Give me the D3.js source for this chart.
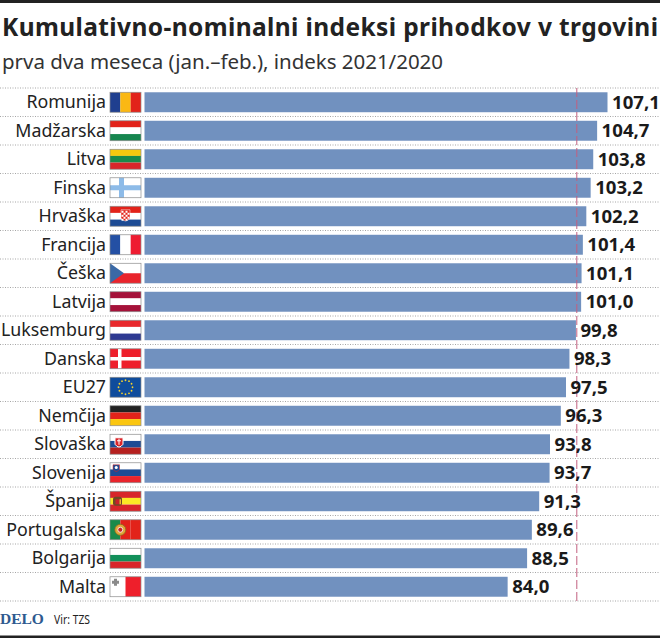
<!DOCTYPE html>
<html>
<head>
<meta charset="utf-8">
<script src="https://cdn.jsdelivr.net/npm/d3@7"></script>
<style>
	html, body { margin: 0; padding: 0; background: #fff; }
	svg { display: block; }
	text { font-family: "Noto Sans", sans-serif; fill: #222; }
</style>
</head>
<body>
<div id="chart"></div>
<script>
const countries = ["Romunija", "Madžarska", "Litva", "Finska", "Hrvaška", "Francija", "Češka", "Latvija", "Luksemburg",
				   "Danska", "EU27", "Nemčija", "Slovaška", "Slovenija", "Španija", "Portugalska", "Bolgarija", "Malta"];
const values = [107.1, 104.7, 103.8, 103.2, 102.2, 101.4, 101.1, 101.0, 99.8,
				98.3, 97.5, 96.3, 93.8, 93.7, 91.3, 89.6, 88.5, 84.0];
const referenceValue = 100;

// stripe colours of each flag, "v" = vertical stripes
const flagDirs = ["v", "h", "h", "h", "h", "v", "h", "h", "h", "h", "h", "h", "h", "h", "h", "v", "h", "v"];
const flagStripes = [
	["#1f3f8f", "#fbb813", "#e2231a"],
	["#e2231a", "#ffffff", "#16864f"],
	["#f6c90e", "#1a8a4a", "#d9252a"],
	["#ffffff"],
	["#e2231a", "#ffffff", "#1d4b94"],
	["#2450a4", "#ffffff", "#ee1c31"],
	["#ffffff", "#e9242c"],
	["#a5123a", "#ffffff", "#a5123a"],
	["#e8282c", "#ffffff", "#2e3a92"],
	["#ee1f2b"],
	["#0f4c9c"],
	["#222222", "#e2231a", "#fbc60f"],
	["#ffffff", "#1d4b94", "#b5201f"],
	["#ffffff", "#1d4b94", "#e9242c"],
	["#d8262a", "#fbe925", "#d8262a"],
	["#1a8a4a", "#e2231a", "#e2231a"],
	["#ffffff", "#12905a", "#d9252a"],
	["#ffffff", "#ee1f2b"]
];

const width = 660;
const height = 638;
const barLeft = 144.5;
const flagWidth = 31;
const flagGap = 3.5;
const rowsTop = 88;
const rowsBottom = 601;
const barColor = "#7191bf";
const dotColor = "#a6a6a6";

const svg = d3.select("#chart").append("svg")
	.attr("width", width)
	.attr("height", height);

// black rules at the top and bottom
svg.append("rect").attr("x", 0).attr("y", 0).attr("width", width).attr("height", 3).attr("fill", "#222");
svg.append("rect").attr("x", 0).attr("y", 635.5).attr("width", width).attr("height", 2.5).attr("fill", "#222");

svg.append("text")
	.attr("x", 2)
	.attr("y", 36)
	.attr("textLength", 656)
	.attr("lengthAdjust", "spacing")
	.style("font-size", "24.5px")
	.style("font-weight", 700)
	.text("Kumulativno-nominalni indeksi prihodkov v trgovini");

svg.append("text")
	.attr("x", 2)
	.attr("y", 69)
	.attr("textLength", 441)
	.attr("lengthAdjust", "spacing")
	.style("font-size", "20.5px")
	.style("fill", "#333")
	.text("prva dva meseca (jan.–feb.), indeks 2021/2020");

const x = d3.scaleLinear().domain([0, 107.1]).range([barLeft, 607.5]);

const y = d3.scaleBand()
	.domain(countries)
	.range([rowsTop, rowsBottom])
	.paddingInner(0.3)
	.paddingOuter(0.15);

// dotted row separators
const rowEdges = countries.map(c => y(c) - y.step() * 0.15);
rowEdges.push(rowsBottom);

svg.append("g").selectAll("line")
	.data(rowEdges)
	.join("line")
	.attr("x1", 0)
	.attr("x2", width)
	.attr("y1", d => d)
	.attr("y2", d => d)
	.attr("stroke", dotColor)
	.attr("stroke-width", 1)
	.attr("stroke-dasharray", "1 1.5");

svg.append("g").selectAll("rect")
	.data(countries)
	.join("rect")
	.attr("x", barLeft)
	.attr("y", d => y(d))
	.attr("width", (d, i) => x(values[i]) - barLeft)
	.attr("height", y.bandwidth())
	.attr("fill", barColor);

// reference line at index 100
svg.append("line")
	.attr("x1", x(referenceValue))
	.attr("x2", x(referenceValue))
	.attr("y1", rowsTop)
	.attr("y2", rowsBottom)
	.attr("stroke", "#c2607f")
	.attr("stroke-width", 1)
	.attr("stroke-dasharray", "9 3");

// country names
const axis = d3.axisLeft(y).tickSize(0).tickPadding(0);
const axisG = svg.append("g")
	.attr("transform", `translate(${barLeft - flagGap - flagWidth - 4},0)`)
	.call(axis);
axisG.select(".domain").remove();
axisG.selectAll("text")
	.style("font-size", "17.8px")
	.attr("dy", "0.35em")
	.style("fill", "#222");

// value labels
svg.append("g").selectAll("text")
	.data(countries)
	.join("text")
	.attr("x", (d, i) => x(values[i]) + 4.5)
	.attr("y", d => y(d) + y.bandwidth() / 2)
	.attr("dy", "0.35em")
	.style("font-size", "18.6px")
	.style("font-weight", 700)
	.style("fill", "#1a1a1a")
	.text((d, i) => values[i].toFixed(1).replace(".", ","));

// flags
const flagX = barLeft - flagGap - flagWidth;
const flagH = y.bandwidth();

countries.forEach(function(name, i) {
	const g = svg.append("g").attr("transform", `translate(${flagX},${y(name)})`);
	const stripes = flagStripes[i];
	const horizontal = flagDirs[i] == "h";
	const n = stripes.length;

	g.selectAll("rect.stripe")
		.data(stripes)
		.join("rect")
		.attr("class", "stripe")
		.attr("x", (d, k) => horizontal ? 0 : k * flagWidth / n)
		.attr("y", (d, k) => horizontal ? k * flagH / n : 0)
		.attr("width", horizontal ? flagWidth : flagWidth / n)
		.attr("height", horizontal ? flagH / n : flagH)
		.attr("fill", d => d);

	drawEmblem(g, name);

	g.append("rect")
		.attr("width", flagWidth)
		.attr("height", flagH)
		.attr("fill", "none")
		.attr("stroke", "#8c8c8c")
		.attr("stroke-width", 0.7);
});

function cross(g, color, left, thick) {
	g.append("rect").attr("x", left).attr("y", 0).attr("width", thick).attr("height", flagH).attr("fill", color);
	g.append("rect").attr("x", 0).attr("y", flagH / 2 - thick / 2).attr("width", flagWidth).attr("height", thick).attr("fill", color);
}

function checker(g, left, top, size, cols, rows) {
	d3.range(cols * rows).forEach(function(k) {
		const col = k % cols;
		const row = Math.floor(k / cols);
		if ((col + row) % 2 == 0)
			g.append("rect").attr("x", left + col * size).attr("y", top + row * size)
				.attr("width", size).attr("height", size).attr("fill", "#fff");
	});
}

function drawEmblem(g, name) {
	if (name == "Finska") {
		cross(g, "#8dbbe8", 9, 5);
	}
	else if (name == "Danska") {
		cross(g, "#ffffff", 8, 3.5);
	}
	else if (name == "Češka") {
		g.append("path").attr("d", `M0,0L14,${flagH / 2}L0,${flagH}Z`).attr("fill", "#3a69a6");
	}
	else if (name == "Hrvaška") {
		g.append("path").attr("d", "M11,3.5H20V12Q15.5,17.5 11,12Z").attr("fill", "#e2231a").attr("stroke", "#fff").attr("stroke-width", 0.5);
		checker(g, 11.5, 4.5, 2, 4, 5);
	}
	else if (name == "Slovaška") {
		g.append("path").attr("d", "M5,3.5H13V10Q9,15.5 5,10Z").attr("fill", "#d9252a").attr("stroke", "#fff").attr("stroke-width", 1);
		g.append("rect").attr("x", 8.5).attr("y", 4.5).attr("width", 1).attr("height", 6).attr("fill", "#fff");
		g.append("rect").attr("x", 7).attr("y", 6).attr("width", 4).attr("height", 1).attr("fill", "#fff");
	}
	else if (name == "Slovenija") {
		g.append("path").attr("d", "M3,2H9.5V6.5Q6.25,11 3,6.5Z").attr("fill", "#1d4b94").attr("stroke", "#e2231a").attr("stroke-width", 0.5);
		g.append("circle").attr("cx", 6.25).attr("cy", 4.8).attr("r", 1.5).attr("fill", "#fff");
	}
	else if (name == "Španija") {
		g.append("rect").attr("x", 3).attr("y", 5.5).attr("width", 9).attr("height", 9).attr("rx", 2.5).attr("fill", "#6e4a24");
		g.append("rect").attr("x", 5.5).attr("y", 8).attr("width", 4).attr("height", 5).attr("fill", "#c8202a");
		g.append("rect").attr("x", 9.5).attr("y", 8).attr("width", 1.5).attr("height", 5).attr("fill", "#f2b632");
	}
	else if (name == "Portugalska") {
		g.append("circle").attr("cx", 10.3).attr("cy", flagH / 2).attr("r", 5.5).attr("fill", "#e0a83a").attr("stroke", "#8a6a1e").attr("stroke-width", 0.8);
		g.append("circle").attr("cx", 10.3).attr("cy", flagH / 2).attr("r", 2.5).attr("fill", "#c8202a").attr("stroke", "#fff").attr("stroke-width", 0.8);
	}
	else if (name == "Malta") {
		g.append("path").attr("d", "M2,4H4V2H7V4H9V7H7V9H4V7H2Z").attr("fill", "#8a8a8a");
	}
	else if (name == "EU27") {
		const ring = d3.range(12).map(k => k * Math.PI / 6);
		g.selectAll("circle.star")
			.data(ring)
			.join("circle")
			.attr("class", "star")
			.attr("cx", d => flagWidth / 2 + 7 * Math.cos(d))
			.attr("cy", d => flagH / 2 + 7 * Math.sin(d))
			.attr("r", 0.9)
			.attr("fill", "#f6d22c");
	}
}

// footer
svg.append("text")
	.attr("x", 0)
	.attr("y", 624)
	.style("font-family", "'Liberation Serif', serif")
	.style("font-size", "15.5px")
	.style("font-weight", 700)
	.style("fill", "#2f5a8f")
	.text("DELO");

svg.append("text")
	.attr("x", 54)
	.attr("y", 624)
	.attr("textLength", 36)
	.attr("lengthAdjust", "spacingAndGlyphs")
	.style("font-size", "13px")
	.text("Vir: TZS");
</script>
</body>
</html>
